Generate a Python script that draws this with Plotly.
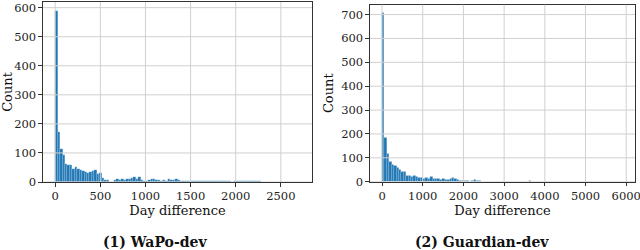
import numpy as np
import plotly.graph_objects as go

# ---- data ----
wapo_range = [0, 2710]
wapo_counts = [590, 172, 114, 93, 62, 60, 58, 45, 52, 44,
               40, 38, 36, 30, 33, 38, 40, 28, 32, 15,
               8, 6, 1, 0, 7, 9, 6, 10, 8, 12,
               10, 15, 16, 12, 18, 8, 2, 4, 6, 9,
               12, 8, 6, 5, 7, 5, 10, 6, 8, 9,
               7, 4, 3, 2, 3, 5, 4, 2, 4, 3,
               2, 3, 2, 4, 2, 3, 4, 2, 5, 2,
               3, 4, 1, 2, 3, 2, 4, 3, 4, 2,
               3, 2, 5, 3, 1, 0, 1, 0, 1, 0,
               1, 0, 1, 0, 1, 0, 1, 0, 1, 1]

guardian_range = [0, 5920]
guardian_counts = [706, 185, 117, 82, 72, 65, 60, 52, 42, 40,
                   24, 25, 23, 26, 22, 17, 16, 14, 15, 12,
                   20, 14, 13, 12, 8, 12, 9, 8, 12, 16,
                   11, 9, 6, 5, 5, 3, 2, 4, 10, 5,
                   3, 2, 1, 1, 1, 0, 1, 0, 1, 0,
                   1, 0, 0, 1, 0, 0, 1, 0, 0, 1,
                   0, 4, 0, 0, 1, 0, 0, 0, 1, 0,
                   0, 0, 0, 1, 0, 0, 0, 0, 0, 1,
                   0, 0, 0, 0, 0, 0, 1, 0, 0, 0,
                   0, 0, 0, 0, 0, 0, 0, 0, 0, 1]

wapo_xticks = [0, 500, 1000, 1500, 2000, 2500]
wapo_yticks = [0, 100, 200, 300, 400, 500, 600]
guardian_xticks = [0, 1000, 2000, 3000, 4000, 5000, 6000]
guardian_yticks = [0, 100, 200, 300, 400, 500, 600, 700]

x_title = "Day difference"
y_title = "Count"
captions = ["(1) WaPo-dev", "(2) Guardian-dev"]

W, H = 640, 250
FONT = "DejaVu Serif"
BAR = "#1f77b4"
GRID = "#d0d0d0"
FRAME = "#333333"

fig = go.Figure()

panels = [
    dict(rng=wapo_range, counts=wapo_counts, xt=wapo_xticks, yt=wapo_yticks,
         xdom=(43, 312), ydom=(2, 182), xa="x", ya="y", capx=155),
    dict(rng=guardian_range, counts=guardian_counts, xt=guardian_xticks, yt=guardian_yticks,
         xdom=(370, 635), ydom=(4.7, 181.7), xa="x2", ya="y2", capx=482),
]

layout = {}
for i, p in enumerate(panels):
    n = len(p["counts"])
    edges = np.linspace(p["rng"][0], p["rng"][1], n + 1)
    centers = (edges[:-1] + edges[1:]) / 2
    width = edges[1] - edges[0]
    fig.add_trace(go.Bar(x=centers, y=p["counts"], width=width,
                         marker=dict(color=BAR, line=dict(color="rgba(255,255,255,0.45)", width=0.4)),
                         xaxis=p["xa"], yaxis=p["ya"], showlegend=False))
    span = p["rng"][1] - p["rng"][0]
    xr = [p["rng"][0] - 0.05 * span, p["rng"][1] + 0.05 * span]
    ymax = max(p["counts"]) * 1.05
    sfx = "" if i == 0 else "2"
    layout["xaxis" + sfx] = dict(
        domain=[p["xdom"][0] / W, p["xdom"][1] / W], range=xr, anchor="y" + sfx,
        tickvals=p["xt"], ticks="outside", ticklen=3.5, tickwidth=1, tickcolor=FRAME,
        showgrid=False, zeroline=False, showline=True, linecolor=FRAME, linewidth=1.2,
        mirror=True, tickfont=dict(family=FONT, size=11.5, color="#222"),
        automargin=False, ticklabeloverflow="allow",
        title=dict(text=x_title, font=dict(family=FONT, size=13, color="#111"), standoff=0),
    )
    layout["yaxis" + sfx] = dict(
        domain=[1 - p["ydom"][1] / H, 1 - p["ydom"][0] / H], range=[0, ymax], anchor="x" + sfx,
        tickvals=p["yt"], ticks="outside", ticklen=3.5, tickwidth=1, tickcolor=FRAME,
        showgrid=False, zeroline=False, showline=True, linecolor=FRAME, linewidth=1.2,
        mirror=True, tickfont=dict(family=FONT, size=11.5, color="#222"),
        automargin=False, ticklabeloverflow="allow",
        title=dict(text=y_title, font=dict(family=FONT, size=13, color="#111"), standoff=4),
    )
    # grid lines drawn above the bars (as in the reference)
    for v in p["xt"]:
        fig.add_shape(type="line", xref=p["xa"], yref=p["ya"] + " domain", x0=v, x1=v, y0=0, y1=1,
                      line=dict(color=GRID, width=1), layer="above")
    for v in p["yt"]:
        fig.add_shape(type="line", xref=p["xa"] + " domain", yref=p["ya"], x0=0, x1=1, y0=v, y1=v,
                      line=dict(color=GRID, width=1), layer="above")
    fig.add_annotation(text="<b>" + captions[i] + "</b>", xref="paper", yref="paper",
                       x=p["capx"] / W, y=1 - 232 / H, xanchor="center", yanchor="top",
                       showarrow=False, font=dict(family=FONT, size=14, color="#111"))

fig.update_layout(width=W, height=H, margin=dict(l=0, r=0, t=0, b=0),
                  paper_bgcolor="white", plot_bgcolor="white", bargap=0, **layout)

fig.write_html("out.html", config={"displayModeBar": False},
               post_script="document.body.style.margin='0';document.body.style.overflow='hidden';")
